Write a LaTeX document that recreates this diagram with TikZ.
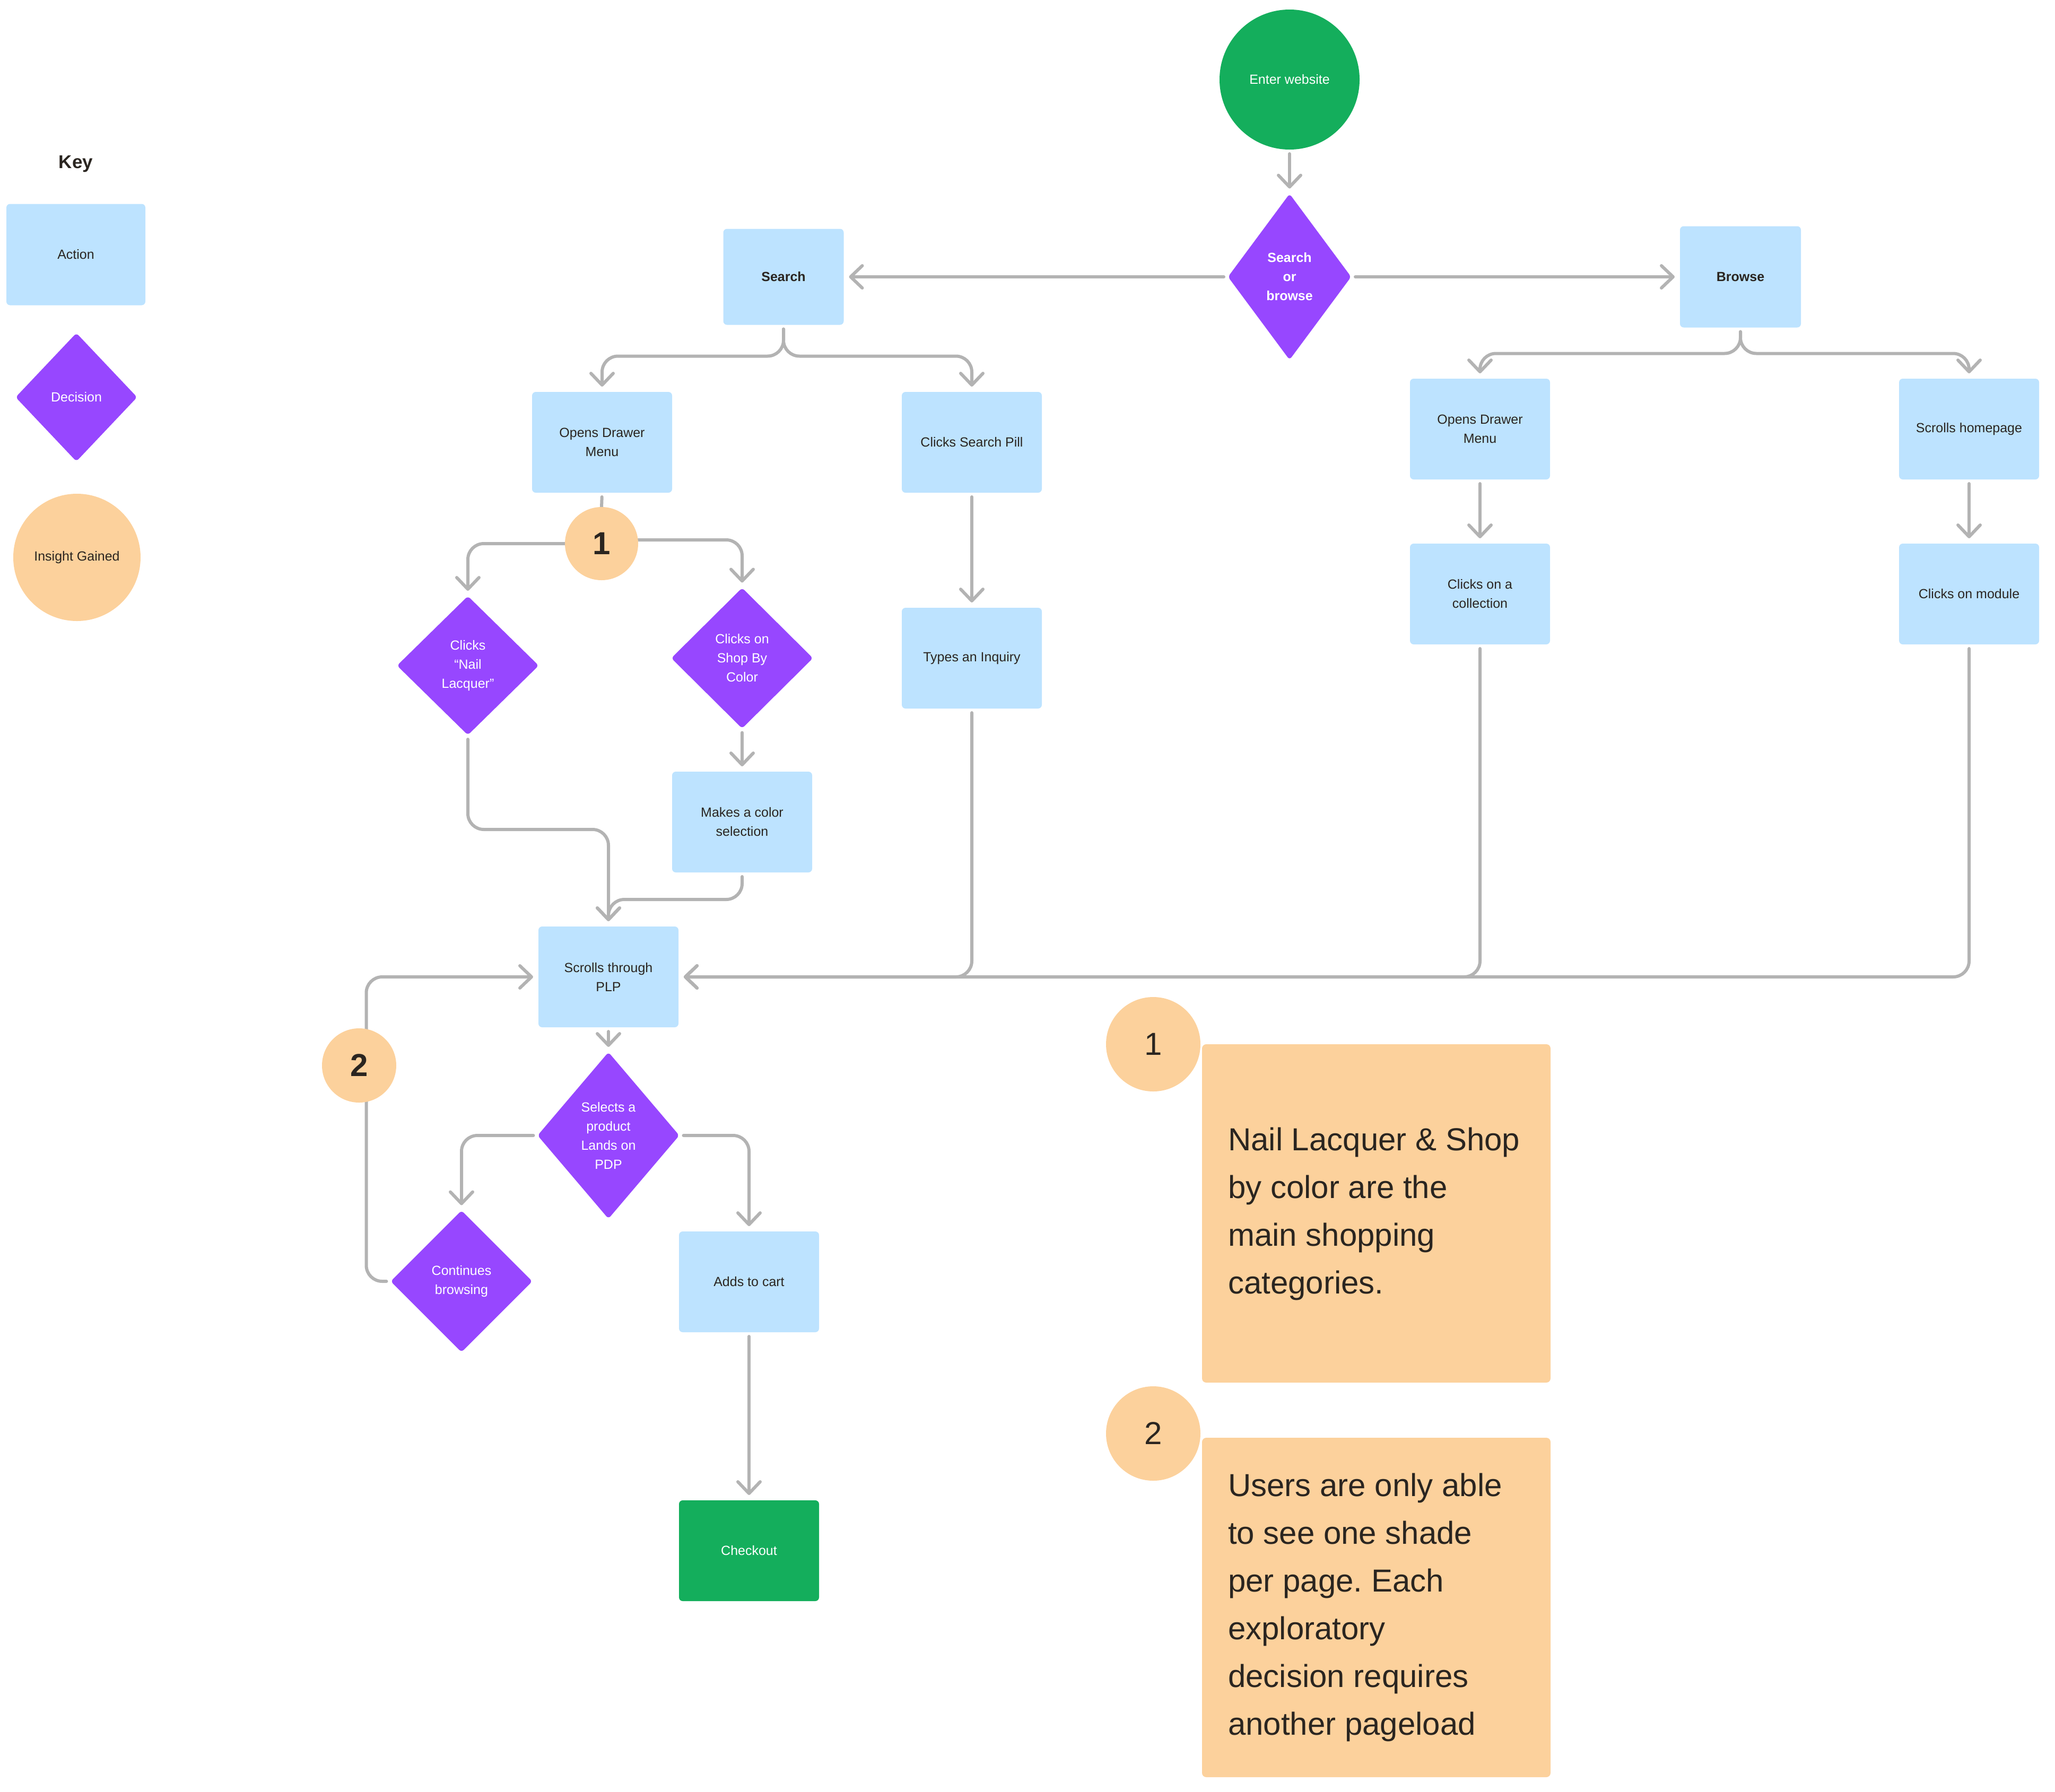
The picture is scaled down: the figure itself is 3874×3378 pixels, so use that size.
\documentclass[tikz,border=0pt]{standalone}
\usepackage{fontspec}
\setmainfont{Liberation Sans}
\usetikzlibrary{shapes.geometric,arrows.meta,backgrounds}
\definecolor{actblue}{HTML}{BDE3FF}
\definecolor{decpurple}{HTML}{9747FF}
\definecolor{startgreen}{HTML}{14AE5C}
\definecolor{peach}{HTML}{FCD19C}
\definecolor{linegrey}{HTML}{B3B3B3}
\definecolor{inkdark}{HTML}{2A2520}
\frenchspacing
\begin{document}
\begin{tikzpicture}[x=0.5pt,y=-0.5pt,
  every node/.style={inner sep=0pt, outer sep=0pt},
  lbl/.style={font=\fontsize{12.5}{18}\selectfont, align=center},
  lblbold/.style={font=\fontsize{12.5}{18}\selectfont\bfseries, align=center},
  actionbox/.style={lbl, rectangle, rounded corners=3.5pt, fill=actblue, text=inkdark, minimum width=132pt, minimum height=95pt},
  decisionbox/.style={lbl, diamond, rounded corners=3pt, fill=decpurple, text=white, minimum width=133.5pt, minimum height=132pt},
  insightdot/.style={circle, fill=peach, text=inkdark, minimum size=69pt, font=\fontsize{30}{36}\selectfont\bfseries},
  bigdot/.style={circle, fill=peach, text=inkdark, minimum size=89pt, font=\fontsize{30}{36}\selectfont},
  notebox/.style={rectangle, rounded corners=4pt, fill=peach, minimum width=328.5pt},
  notetext/.style={anchor=west, align=left, text=inkdark, font=\fontsize{30}{45}\selectfont},
  conn/.style={draw=linegrey, line width=3pt, line cap=round, line join=round, rounded corners=15pt, -{Straight Barb[length=11pt,width=21pt,round]}, shorten <=4pt, shorten >=5pt},
  plainline/.style={draw=linegrey, line width=3pt, line cap=round, shorten <=4pt}
]
\useasboundingbox (0,0) rectangle (3874,3378);

% Key
\node[font=\fontsize{17.5}{21}\selectfont\bfseries, text=inkdark] (keytitle) at (143,309) {Key};
\node[actionbox, minimum width=131pt, minimum height=95.5pt] (keyact) at (143,480) {Action};
\node[decisionbox, minimum width=114.5pt, minimum height=121pt] (keydec) at (144,749) {Decision};
\node[circle, fill=peach, minimum size=120pt, lbl, text=inkdark] (keyins) at (145,1051) {Insight Gained};

% Flow
\node[circle, fill=startgreen, minimum size=132pt, lbl, text=white] (enter) at (2431,150) {Enter website};
\node[decisionbox, lblbold, minimum width=116pt, minimum height=156.5pt] (sob) at (2431,522) {Search\\or\\browse};
\node[actionbox, lblbold, minimum width=113.5pt, minimum height=90.5pt] (search) at (1477,522) {Search};
\node[actionbox, lblbold, minimum width=114pt, minimum height=95.5pt] (browse) at (3281,522) {Browse};
\node[actionbox] (odm1) at (1135,834) {Opens Drawer\\Menu};
\node[actionbox] (csp) at (1832,834) {Clicks Search Pill};
\node[actionbox] (types) at (1832,1241) {Types an Inquiry};
\node[insightdot] (ins1) at (1134,1025) {1};
\node[decisionbox, minimum height=131pt] (nail) at (882,1255) {Clicks\\“Nail\\Lacquer”};
\node[decisionbox, minimum height=132.5pt] (sbc) at (1399,1241) {Clicks on\\Shop By\\Color};
\node[actionbox] (color) at (1399,1550) {Makes a color\\selection};
\node[actionbox] (plp) at (1147,1842) {Scrolls through\\PLP};
\node[actionbox] (odm2) at (2790,809) {Opens Drawer\\Menu};
\node[actionbox] (scroll) at (3712,809) {Scrolls homepage};
\node[actionbox] (coll) at (2790,1120) {Clicks on a\\collection};
\node[actionbox] (module) at (3712,1120) {Clicks on module};
\node[decisionbox, minimum height=157pt] (sel) at (1147,2141) {Selects a\\product\\Lands on\\PDP};
\node[decisionbox, minimum height=133.5pt] (cont) at (870,2416) {Continues\\browsing};
\node[actionbox] (cart) at (1412,2417) {Adds to cart};
\node[actionbox, fill=startgreen, text=white] (checkout) at (1412,2924) {Checkout};
\node[insightdot, minimum size=70pt] (ins2) at (677,2009) {2};

% Notes
\node[notebox, minimum height=319pt] (note1) at (2594.5,2288) {};
\node[bigdot] (big1) at (2174,1969) {1};
\node[notetext] (note1text) at (2315,2289) {Nail Lacquer \& Shop\\by color are the\\main shopping\\categories.};
\node[notebox, minimum height=320pt] (note2) at (2594.5,3031) {};
\node[bigdot] (big2) at (2174,2703) {2};
\node[notetext] (note2text) at (2315,3031) {Users are only able\\to see one shade\\per page. Each\\exploratory\\decision requires\\another pageload};

% Connectors
\begin{scope}[on background layer]
\draw[conn] (enter.south) -- (sob.north);
\draw[conn] (sob.west) -- (search.east);
\draw[conn] (sob.east) -- (browse.west);
\draw[conn] (search.south) -- ++(0,59) -| (odm1.north);
\draw[conn] (search.south) -- ++(0,59) -| (csp.north);
\draw[conn] (browse.south) -- ++(0,49) -| (odm2.north);
\draw[conn] (browse.south) -- ++(0,49) -| (scroll.north);
\draw[plainline] (odm1.south) -- (ins1.north);
\draw[conn, shorten <=0pt] (ins1.west) -| (nail.north);
\draw[conn, shorten <=0pt] ([yshift=3.5pt]ins1.east) -| (sbc.north);
\draw[conn] (csp.south) -- (types.north);
\draw[conn] (sbc.south) -- (color.north);
\draw[conn] (nail.south) -- ++(0,178) -| (plp.north);
\draw[conn] (color.south) -- ++(0,51) -| (plp.north);
\draw[conn] (types.south) |- (plp.east);
\draw[conn] (coll.south) |- (plp.east);
\draw[conn] (module.south) |- (plp.east);
\draw[conn] (odm2.south) -- (coll.north);
\draw[conn] (scroll.south) -- (module.north);
\draw[conn] (plp.south) -- (sel.north);
\draw[conn] (sel.west) -| (cont.north);
\draw[conn] (sel.east) -| (cart.north);
\draw[conn] (cart.south) -- (checkout.north);
\draw[conn] (cont.west) -- ++(-46,0) |- (plp.west);
\end{scope}
\end{tikzpicture}
\end{document}
